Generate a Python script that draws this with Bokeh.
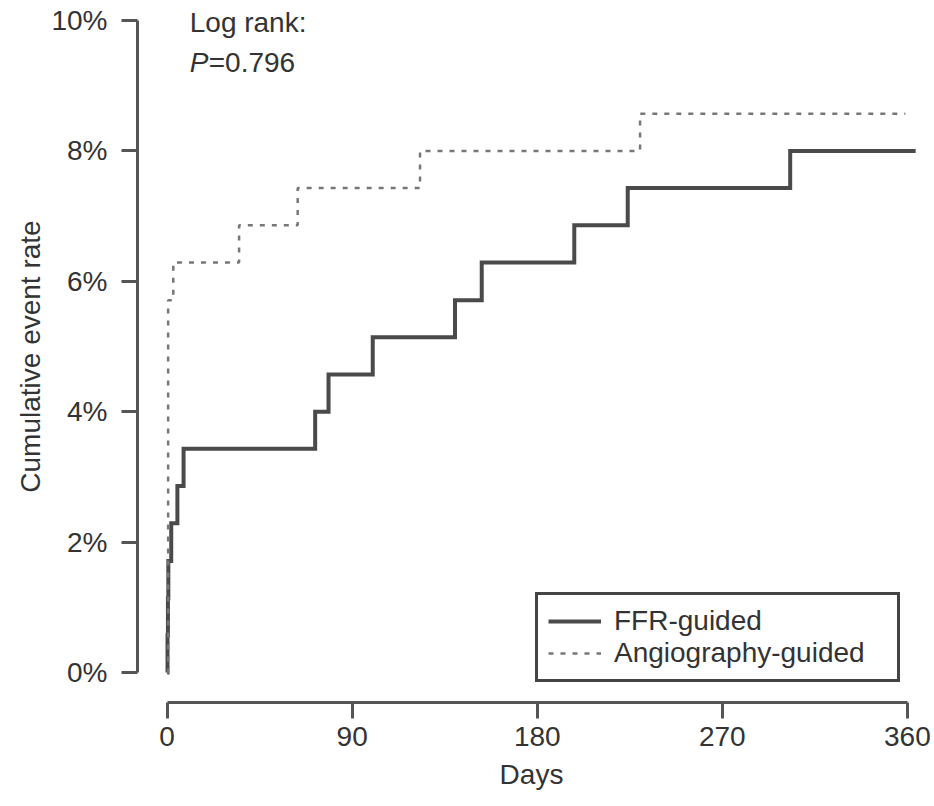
from bokeh.plotting import figure
from bokeh.models import Range1d, FixedTicker, Label, Legend, LegendItem
from bokeh.embed import file_html
from bokeh.resources import INLINE

# Kaplan-Meier cumulative event rate (%) at each event day
ffr_days = [0, 0.2, 0.4, 0.6, 2, 5, 8, 72, 78.5, 100, 140, 153, 198, 224, 303, 364]
ffr_rate = [0, 0.57, 1.14, 1.71, 2.29, 2.86, 3.43, 4.00, 4.57, 5.14, 5.71, 6.29, 6.86, 7.43, 8.00, 8.00]

angio_days = [0, 0.5, 3, 35, 63.5, 123, 230, 359]
angio_rate = [0, 5.71, 6.29, 6.86, 7.43, 8.00, 8.57, 8.57]

x_ticks = [0, 90, 180, 270, 360]
y_ticks = [0, 2, 4, 6, 8, 10]
y_tick_labels = ["0%", "2%", "4%", "6%", "8%", "10%"]

series_names = ["FFR-guided", "Angiography-guided"]
log_rank_title = "Log rank:"
p_value = "=0.796"

FONT = "Liberation Sans"
FS = "28px"
TXT = "#333333"
AX = "#555555"

p = figure(width=934, height=806, output_backend="svg", toolbar_location=None,
           x_range=Range1d(-14.4, 368.8), y_range=Range1d(-0.46, 10.153),
           min_border_left=137, min_border_bottom=104, min_border_top=10,
           min_border_right=9)
p.outline_line_color = None
p.xgrid.visible = False
p.ygrid.visible = False
p.background_fill_color = "white"
p.border_fill_color = "white"

for ax in (p.xaxis[0], p.yaxis[0]):
    ax.axis_line_width = 3
    ax.axis_line_color = AX
    ax.major_tick_line_width = 3
    ax.major_tick_line_color = AX
    ax.major_tick_out = 16
    ax.major_tick_in = 0
    ax.minor_tick_out = 0
    ax.minor_tick_in = 0
    ax.major_label_text_font = FONT
    ax.major_label_text_font_size = FS
    ax.major_label_text_color = TXT
    ax.axis_label_text_font = FONT
    ax.axis_label_text_font_size = FS
    ax.axis_label_text_font_style = "normal"
    ax.axis_label_text_color = TXT

p.xaxis.ticker = FixedTicker(ticks=x_ticks)
p.xaxis.bounds = (x_ticks[0], x_ticks[-1])
p.xaxis.major_label_standoff = 8
p.xaxis.axis_label = "Days"
p.xaxis.axis_label_standoff = 10

p.yaxis.ticker = FixedTicker(ticks=y_ticks)
p.yaxis.bounds = (y_ticks[0], y_ticks[-1])
p.yaxis.major_label_overrides = {t: lab for t, lab in zip(y_ticks, y_tick_labels)}
p.yaxis.major_label_standoff = 14
p.yaxis.axis_label = "Cumulative event rate"
p.yaxis.axis_label_standoff = 2

r_ffr = p.step(ffr_days, ffr_rate, mode="after", line_color="#4a4a4a",
               line_width=4, line_join="miter")
r_angio = p.step(angio_days, angio_rate, mode="after", line_color="#777777",
                 line_width=2.5, line_dash="5 7")

legend = Legend(items=[LegendItem(label=series_names[0], renderers=[r_ffr]),
                       LegendItem(label=series_names[1], renderers=[r_angio])],
                location=(398, 20))
legend.label_text_font = FONT
legend.label_text_font_size = FS
legend.label_text_color = TXT
legend.label_height = 30
legend.glyph_height = 30
legend.glyph_width = 53
legend.label_standoff = 13
legend.label_width = 273
legend.spacing = 0
legend.padding = 10
legend.margin = 0
legend.border_line_color = "#444444"
legend.border_line_alpha = 1
legend.border_line_width = 3
legend.background_fill_alpha = 1
p.add_layout(legend, "center")

p.add_layout(Label(x=11, y=9.97, text=log_rank_title, text_font=FONT,
                   text_font_size=FS, text_color=TXT, text_baseline="middle"))
p.add_layout(Label(x=11, y=9.36, text="P", text_font=FONT, text_font_size=FS,
                   text_font_style="italic", text_color=TXT,
                   text_baseline="middle"))
p.add_layout(Label(x=11, y=9.36, x_offset=19, text=p_value, text_font=FONT,
                   text_font_size=FS, text_color=TXT, text_baseline="middle"))

open("out.html", "w").write(file_html(p, INLINE))
